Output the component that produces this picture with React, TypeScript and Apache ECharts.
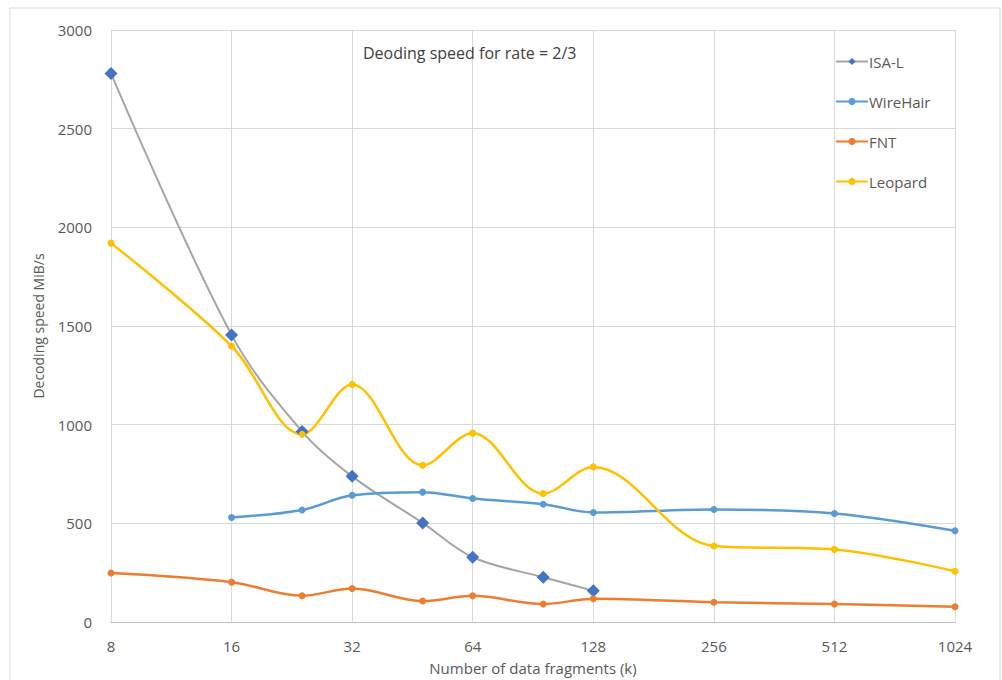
import React, { useEffect, useRef } from "react";
import * as echarts from "echarts";

const fragments = [8, 16, 24, 32, 48, 64, 96, 128, 256, 512, 1024];
const isaL = [2780, 1455, 965, 738, 502, 328, 227, 158, null, null, null];
const wireHair = [null, 530, 568, 642, 658, 626, 597, 555, 570, 550, 462];
const fnt = [248, 202, 133, 170, 106, 133, 91, 118, 100, 91, 77];
const leopard = [1920, 1398, 951, 1204, 794, 957, 651, 786, 385, 368, 257];
const seriesNames = ["ISA-L", "WireHair", "FNT", "Leopard"];
const chartTitle = "Deoding speed for rate = 2/3";
const xName = "Number of data fragments (k)";
const yName = "Decoding speed MiB/s";

const pair = (vals: (number | null)[]) =>
  fragments.map((k, i) => [k, vals[i]]).filter((p) => p[1] !== null);

export default function App() {
  const ref = useRef<HTMLDivElement>(null);
  useEffect(() => {
    const chart = echarts.init(ref.current!, undefined, { renderer: "svg" });
    const font = "'Open Sans', sans-serif";
    const textColor = "#595959";
    chart.setOption({
      animation: false,
      backgroundColor: "#ffffff",
      textStyle: { fontFamily: font },
      graphic: [
        {
          type: "rect",
          shape: { x: 10, y: 8, width: 990, height: 690 },
          style: { fill: "none", stroke: "#d9d9d9", lineWidth: 1 },
          silent: true,
        },
      ],
      title: {
        text: chartTitle,
        left: 358,
        top: 40,
        textStyle: { fontFamily: font, fontSize: 16, fontWeight: "normal", color: "#404040" },
      },
      legend: {
        orient: "vertical",
        left: 830,
        top: 49,
        itemGap: 25,
        itemWidth: 32,
        itemHeight: 9,
        data: seriesNames,
        textStyle: { fontFamily: font, fontSize: 15, color: textColor, padding: [0, 0, 0, -4] },
      },
      grid: { left: 111, right: 47, top: 30, bottom: 57 },
      xAxis: {
        type: "log",
        logBase: 2,
        min: 8,
        max: 1024,
        name: xName,
        nameLocation: "middle",
        nameGap: 38,
        nameTextStyle: { fontFamily: font, fontSize: 15, color: textColor },
        axisLine: { show: true, lineStyle: { color: "#bfbfbf" } },
        axisTick: { show: false },
        axisLabel: {
          margin: 16,
          fontFamily: font,
          fontSize: 15,
          color: textColor,
          formatter: (v: number) => String(Math.round(v)),
        },
        splitLine: { show: true, lineStyle: { color: "#d9d9d9" } },
        minorTick: { show: false },
      },
      yAxis: {
        type: "value",
        min: 0,
        max: 3000,
        interval: 500,
        name: yName,
        nameLocation: "middle",
        nameGap: 66,
        nameTextStyle: { fontFamily: font, fontSize: 14, color: textColor },
        axisLine: { show: true, lineStyle: { color: "#d9d9d9" } },
        axisTick: { show: false },
        axisLabel: {
          margin: 19,
          fontFamily: font,
          fontSize: 15,
          color: textColor,
          formatter: (v: number) => String(v),
        },
        splitLine: { show: true, lineStyle: { color: "#d9d9d9" } },
      },
      series: [
        {
          name: seriesNames[0],
          type: "line",
          smooth: 0.35,
          data: pair(isaL),
          symbol: "diamond",
          symbolSize: 13,
          lineStyle: { color: "#a5a5a5", width: 2 },
          itemStyle: { color: "#4472c4" },
        },
        {
          name: seriesNames[1],
          type: "line",
          smooth: 0.35,
          data: pair(wireHair),
          symbol: "circle",
          symbolSize: 7,
          lineStyle: { color: "#5b9bd5", width: 2.5 },
          itemStyle: { color: "#5b9bd5" },
        },
        {
          name: seriesNames[2],
          type: "line",
          smooth: 0.35,
          data: pair(fnt),
          symbol: "circle",
          symbolSize: 7,
          lineStyle: { color: "#ed7d31", width: 2.5 },
          itemStyle: { color: "#ed7d31" },
        },
        {
          name: seriesNames[3],
          type: "line",
          smooth: 0.35,
          data: pair(leopard),
          symbol: "circle",
          symbolSize: 7,
          lineStyle: { color: "#ffc000", width: 2.5 },
          itemStyle: { color: "#ffc000" },
        },
      ],
    });
    return () => chart.dispose();
  }, []);
  return (
    <div
      ref={ref}
      style={{ position: "absolute", left: 0, top: 0, width: 1002, height: 680 }}
    />
  );
}
